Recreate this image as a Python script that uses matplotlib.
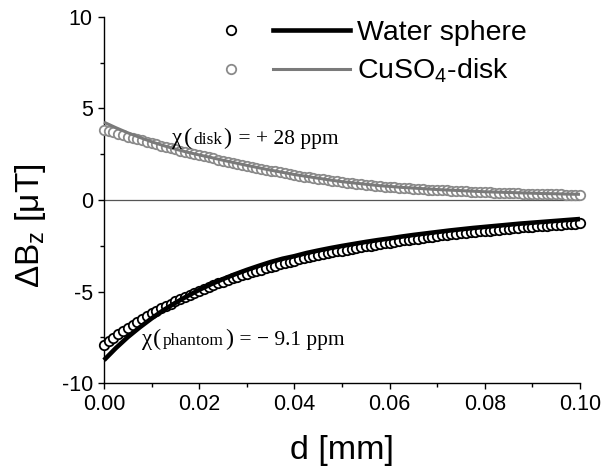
import matplotlib
matplotlib.use('Agg')
import matplotlib.pyplot as plt
from matplotlib.lines import Line2D
from matplotlib.legend_handler import HandlerTuple
from matplotlib.offsetbox import TextArea, HPacker, AnnotationBbox
from matplotlib.ticker import MultipleLocator, FormatStrFormatter

plt.rcParams['font.family'] = ['Liberation Sans', 'DejaVu Sans']
plt.rcParams['mathtext.fontset'] = 'custom'
plt.rcParams['mathtext.rm'] = 'Liberation Sans'
plt.rcParams['mathtext.it'] = 'Liberation Sans'
plt.rcParams['axes.unicode_minus'] = False

# ---- data ----
d_circ = [0.000, 0.001, 0.002, 0.003, 0.004, 0.005, 0.006, 0.007, 0.008, 0.009,
          0.010, 0.011, 0.012, 0.013, 0.014, 0.015, 0.016, 0.017, 0.018, 0.019,
          0.020, 0.021, 0.022, 0.023, 0.024, 0.025, 0.026, 0.027, 0.028, 0.029,
          0.030, 0.031, 0.032, 0.033, 0.034, 0.035, 0.036, 0.037, 0.038, 0.039,
          0.040, 0.041, 0.042, 0.043, 0.044, 0.045, 0.046, 0.047, 0.048, 0.049,
          0.050, 0.051, 0.052, 0.053, 0.054, 0.055, 0.056, 0.057, 0.058, 0.059,
          0.060, 0.061, 0.062, 0.063, 0.064, 0.065, 0.066, 0.067, 0.068, 0.069,
          0.070, 0.071, 0.072, 0.073, 0.074, 0.075, 0.076, 0.077, 0.078, 0.079,
          0.080, 0.081, 0.082, 0.083, 0.084, 0.085, 0.086, 0.087, 0.088, 0.089,
          0.090, 0.091, 0.092, 0.093, 0.094, 0.095, 0.096, 0.097, 0.098, 0.099,
          0.100]

water_circ = [-7.90, -7.70, -7.52, -7.33, -7.16, -6.98, -6.82, -6.66, -6.50, -6.35,
              -6.20, -6.06, -5.92, -5.79, -5.66, -5.54, -5.41, -5.30, -5.18, -5.07,
              -4.96, -4.86, -4.75, -4.65, -4.56, -4.46, -4.37, -4.28, -4.20, -4.11,
              -4.03, -3.95, -3.87, -3.80, -3.72, -3.65, -3.58, -3.51, -3.44, -3.38,
              -3.32, -3.25, -3.19, -3.14, -3.08, -3.02, -2.97, -2.91, -2.86, -2.81,
              -2.76, -2.71, -2.67, -2.62, -2.58, -2.53, -2.49, -2.45, -2.40, -2.36,
              -2.33, -2.29, -2.25, -2.21, -2.18, -2.14, -2.11, -2.07, -2.04, -2.01,
              -1.98, -1.94, -1.91, -1.88, -1.86, -1.83, -1.80, -1.77, -1.74, -1.72,
              -1.69, -1.67, -1.64, -1.62, -1.59, -1.57, -1.55, -1.53, -1.50, -1.48,
              -1.46, -1.44, -1.42, -1.40, -1.38, -1.36, -1.34, -1.32, -1.31, -1.29,
              -1.27]

disk_circ = [3.85, 3.77, 3.69, 3.61, 3.54, 3.46, 3.39, 3.32, 3.25, 3.18,
             3.11, 3.04, 2.97, 2.90, 2.84, 2.77, 2.70, 2.64, 2.57, 2.51,
             2.45, 2.39, 2.33, 2.27, 2.21, 2.15, 2.10, 2.04, 1.98, 1.93,
             1.87, 1.82, 1.77, 1.71, 1.66, 1.61, 1.56, 1.51, 1.46, 1.42,
             1.37, 1.32, 1.28, 1.24, 1.20, 1.16, 1.12, 1.08, 1.05, 1.01,
             0.98, 0.95, 0.92, 0.89, 0.86, 0.84, 0.81, 0.78, 0.76, 0.73,
             0.71, 0.69, 0.67, 0.66, 0.64, 0.62, 0.60, 0.59, 0.57, 0.56,
             0.54, 0.53, 0.52, 0.50, 0.49, 0.48, 0.47, 0.46, 0.45, 0.43,
             0.42, 0.41, 0.40, 0.39, 0.38, 0.37, 0.37, 0.36, 0.35, 0.34,
             0.33, 0.32, 0.32, 0.31, 0.31, 0.30, 0.30, 0.29, 0.28, 0.28,
             0.27]

d_line = [0.0000, 0.0025, 0.0050, 0.0075, 0.0100, 0.0125, 0.0150, 0.0175,
          0.0200, 0.0225, 0.0250, 0.0275, 0.0300, 0.0325, 0.0350, 0.0375,
          0.0400, 0.0425, 0.0450, 0.0475, 0.0500, 0.0525, 0.0550, 0.0575,
          0.0600, 0.0625, 0.0650, 0.0675, 0.0700, 0.0725, 0.0750, 0.0775,
          0.0800, 0.0825, 0.0850, 0.0875, 0.0900, 0.0925, 0.0950, 0.0975,
          0.1000]

water_line = [-8.75, -8.09, -7.49, -6.96, -6.47, -6.02, -5.62, -5.25,
              -4.91, -4.60, -4.32, -4.06, -3.82, -3.60, -3.39, -3.21,
              -3.07, -2.90, -2.76, -2.63, -2.51, -2.40, -2.29, -2.19,
              -2.10, -2.00, -1.91, -1.83, -1.75, -1.67, -1.60, -1.53,
              -1.47, -1.41, -1.35, -1.29, -1.24, -1.19, -1.14, -1.09,
              -1.04]

disk_line = [4.25, 3.95, 3.67, 3.42, 3.18, 2.97, 2.78, 2.61,
             2.46, 2.32, 2.17, 2.03, 1.89, 1.76, 1.63, 1.51,
             1.39, 1.29, 1.19, 1.09, 1.00, 0.93, 0.86, 0.79,
             0.74, 0.69, 0.65, 0.61, 0.57, 0.54, 0.51, 0.48,
             0.45, 0.43, 0.41, 0.39, 0.37, 0.35, 0.34, 0.32,
             0.31]

series_labels = ['Water sphere', 'CuSO$_4$-disk']
x_ticks = [0.00, 0.02, 0.04, 0.06, 0.08, 0.10]
y_ticks = [-10, -5, 0, 5, 10]

# ---- styles ----
BLACK = '#000000'
GRAY = '#7a7a7a'
GRAY_C = '#8a8a8a'

fig = plt.figure(figsize=(6.08, 4.70), dpi=100)
ax = fig.add_axes([0.171, 0.185, 0.783, 0.779])

ax.axhline(0, color='#555555', lw=0.9, zorder=1)

ax.plot(d_circ, disk_circ, ls='none', marker='o', ms=6.8, mfc='white',
        mec=GRAY_C, mew=1.3, zorder=3, clip_on=False)
ax.plot(d_line, disk_line, color=GRAY, lw=2.2, zorder=4, clip_on=False,
        solid_capstyle='butt')

ax.plot(d_circ, water_circ, ls='none', marker='o', ms=6.8, mfc='white',
        mec=BLACK, mew=1.3, zorder=3, clip_on=False)
ax.plot(d_line, water_line, color=BLACK, lw=3.3, zorder=4, clip_on=False,
        solid_capstyle='butt')

ax.set_xlim(0, 0.1)
ax.set_ylim(-10, 10)
ax.set_xticks(x_ticks)
ax.set_yticks(y_ticks)
ax.xaxis.set_minor_locator(MultipleLocator(0.01))
ax.yaxis.set_minor_locator(MultipleLocator(2.5))
ax.xaxis.set_major_formatter(FormatStrFormatter('%.2f'))
ax.tick_params(which='major', direction='out', length=4.5, width=1.0,
               labelsize=15.5, pad=3.5)
ax.tick_params(which='minor', direction='out', length=3.2, width=1.0)
for s in ['top', 'right']:
    ax.spines[s].set_visible(False)
for s in ['left', 'bottom']:
    ax.spines[s].set_linewidth(1.0)

ax.set_xlabel('d [mm]', fontsize=24.5)
ax.set_ylabel('ΔB$_z$ [μT]', fontsize=24)
ax.xaxis.set_label_coords(0.5, -0.143)
ax.yaxis.set_label_coords(-0.118, 0.43)

# legend: marker + line per entry
proxy_wc = Line2D([], [], ls='none', marker='o', ms=6.8, mfc='white', mec=BLACK, mew=1.3)
proxy_wl = Line2D([], [], color=BLACK, lw=3.3)
proxy_dc = Line2D([], [], ls='none', marker='o', ms=6.8, mfc='white', mec=GRAY_C, mew=1.3)
proxy_dl = Line2D([], [], color=GRAY, lw=2.2)
leg = ax.legend([(proxy_wc, proxy_wl), (proxy_dc, proxy_dl)], series_labels,
                handler_map={tuple: HandlerTuple(ndivide=2, pad=0.14)},
                handlelength=5.55, handletextpad=0.25, labelspacing=0.37,
                fontsize=20.5, frameon=False, borderpad=0, borderaxespad=0,
                loc='upper left', bbox_to_anchor=(192 / 608, 1 - 20 / 470),
                bbox_transform=fig.transFigure)


def chi_label(x, y, word, rest):
    serif = 'Liberation Serif'
    parts = [TextArea('χ', textprops=dict(family=serif, size=16.5)),
             TextArea('(', textprops=dict(family=serif, size=17.5)),
             TextArea(word, textprops=dict(family=serif, size=12.5)),
             TextArea(')', textprops=dict(family=serif, size=17.5)),
             TextArea(rest, textprops=dict(family=serif, size=15.5))]
    box = HPacker(children=parts, align='baseline', pad=0, sep=1)
    ab = AnnotationBbox(box, (x, y), xycoords='data', box_alignment=(0, 0.5),
                        frameon=False, pad=0, zorder=6)
    ax.add_artist(ab)


chi_label(0.0143, 3.36, 'disk', ' = + 28 ppm')
chi_label(0.0079, -7.6, 'phantom', ' = \u2212 9.1 ppm')

fig.savefig('out.png', dpi=100)
